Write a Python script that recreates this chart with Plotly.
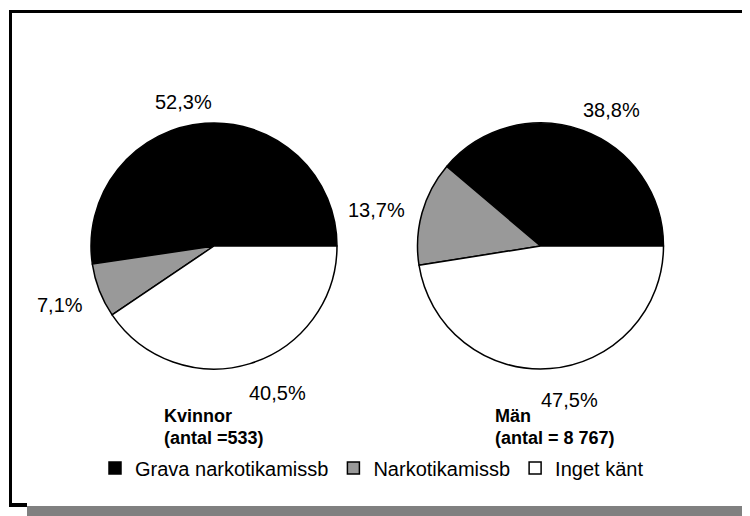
import plotly.graph_objects as go

labels = ['Grava narkotikamissb', 'Narkotikamissb', 'Inget känt']
kvinnor = [52.3, 7.1, 40.5]
man = [38.8, 13.7, 47.5]
colors = ['#000000', '#999999', '#ffffff']
group_names = ['Kvinnor', 'Män']
group_counts = ['(antal =533)', '(antal = 8 767)']

# the page puts the figure 8px in from the top-left corner
OFF = 8
W, H = 750 - OFF, 516 - OFF


def px(x, y):
    # screen pixel of the reference -> paper coords
    return (x - OFF) / W, 1 - (y - OFF) / H


def start_angle(vals):
    # first slice should begin at 3 o'clock and run counterclockwise
    return 90 - vals[0] / sum(vals) * 360


def pie(vals, x0, x1, y0, y1):
    dx0, dy1 = px(x0, y0)
    dx1, dy0 = px(x1, y1)
    return go.Pie(
        labels=labels, values=vals, sort=False,
        direction='counterclockwise', rotation=start_angle(vals),
        marker=dict(colors=colors, line=dict(color='black', width=1.5)),
        textinfo='none', hoverinfo='label+percent',
        domain=dict(x=[dx0, dx1], y=[dy0, dy1]),
    )


fig = go.Figure()
fig.add_trace(pie(kvinnor, 91, 337, 123, 369))
fig.add_trace(pie(man, 417.5, 663.5, 123, 369))


def pct(v):
    return f'{v:.1f}'.replace('.', ',') + '%'


label_pos_k = [(183, 102), (60, 305), (277, 393)]
label_pos_m = [(611, 110), (376, 210), (569, 400)]
annotations = []
for vals, pos in [(kvinnor, label_pos_k), (man, label_pos_m)]:
    for v, (x, y) in zip(vals, pos):
        ax, ay = px(x, y)
        annotations.append(dict(x=ax, y=ay, xref='paper', yref='paper',
                                text=pct(v), showarrow=False,
                                xanchor='center', yanchor='middle',
                                font=dict(size=20, color='black')))

for name, count, x in zip(group_names, group_counts, [162, 493]):
    for txt, y in [(name, 416), (count, 438)]:
        ax, ay = px(x, y)
        annotations.append(dict(x=ax, y=ay, xref='paper', yref='paper',
                                text='<b>' + txt + '</b>', showarrow=False,
                                xanchor='left', yanchor='middle',
                                font=dict(size=18, color='black')))

# frame: black on top/left, grey drop shadow bottom/right
def rect(x0, y0, x1, y1, color):
    a, b = px(x0, y1)
    c, d = px(x1, y0)
    return dict(type='rect', xref='paper', yref='paper', x0=a, y0=b, x1=c, y1=d,
                fillcolor=color, line=dict(width=0), layer='below')


shapes = [
    rect(9, 10, 748, 13, 'black'),     # top
    rect(9, 10, 12, 507, 'black'),     # left
    rect(744, 10, 750, 28, 'black'),   # right stub
    rect(9, 503, 27, 507, 'black'),    # bottom stub
    rect(744, 28, 752, 518, '#808080'),
    rect(27, 506, 752, 518, '#808080'),
]

lx, ly = px(372, 468)
fig.update_layout(
    width=W, height=H,
    margin=dict(l=0, r=0, t=0, b=0),
    paper_bgcolor='white', plot_bgcolor='white',
    font=dict(family='Liberation Sans, Arial, sans-serif', color='black'),
    showlegend=True,
    legend=dict(orientation='h', x=lx, y=ly, xanchor='center', yanchor='middle',
                font=dict(size=20), bgcolor='rgba(0,0,0,0)'),
    annotations=annotations,
    shapes=shapes,
)

fig.write_html('out.html')
